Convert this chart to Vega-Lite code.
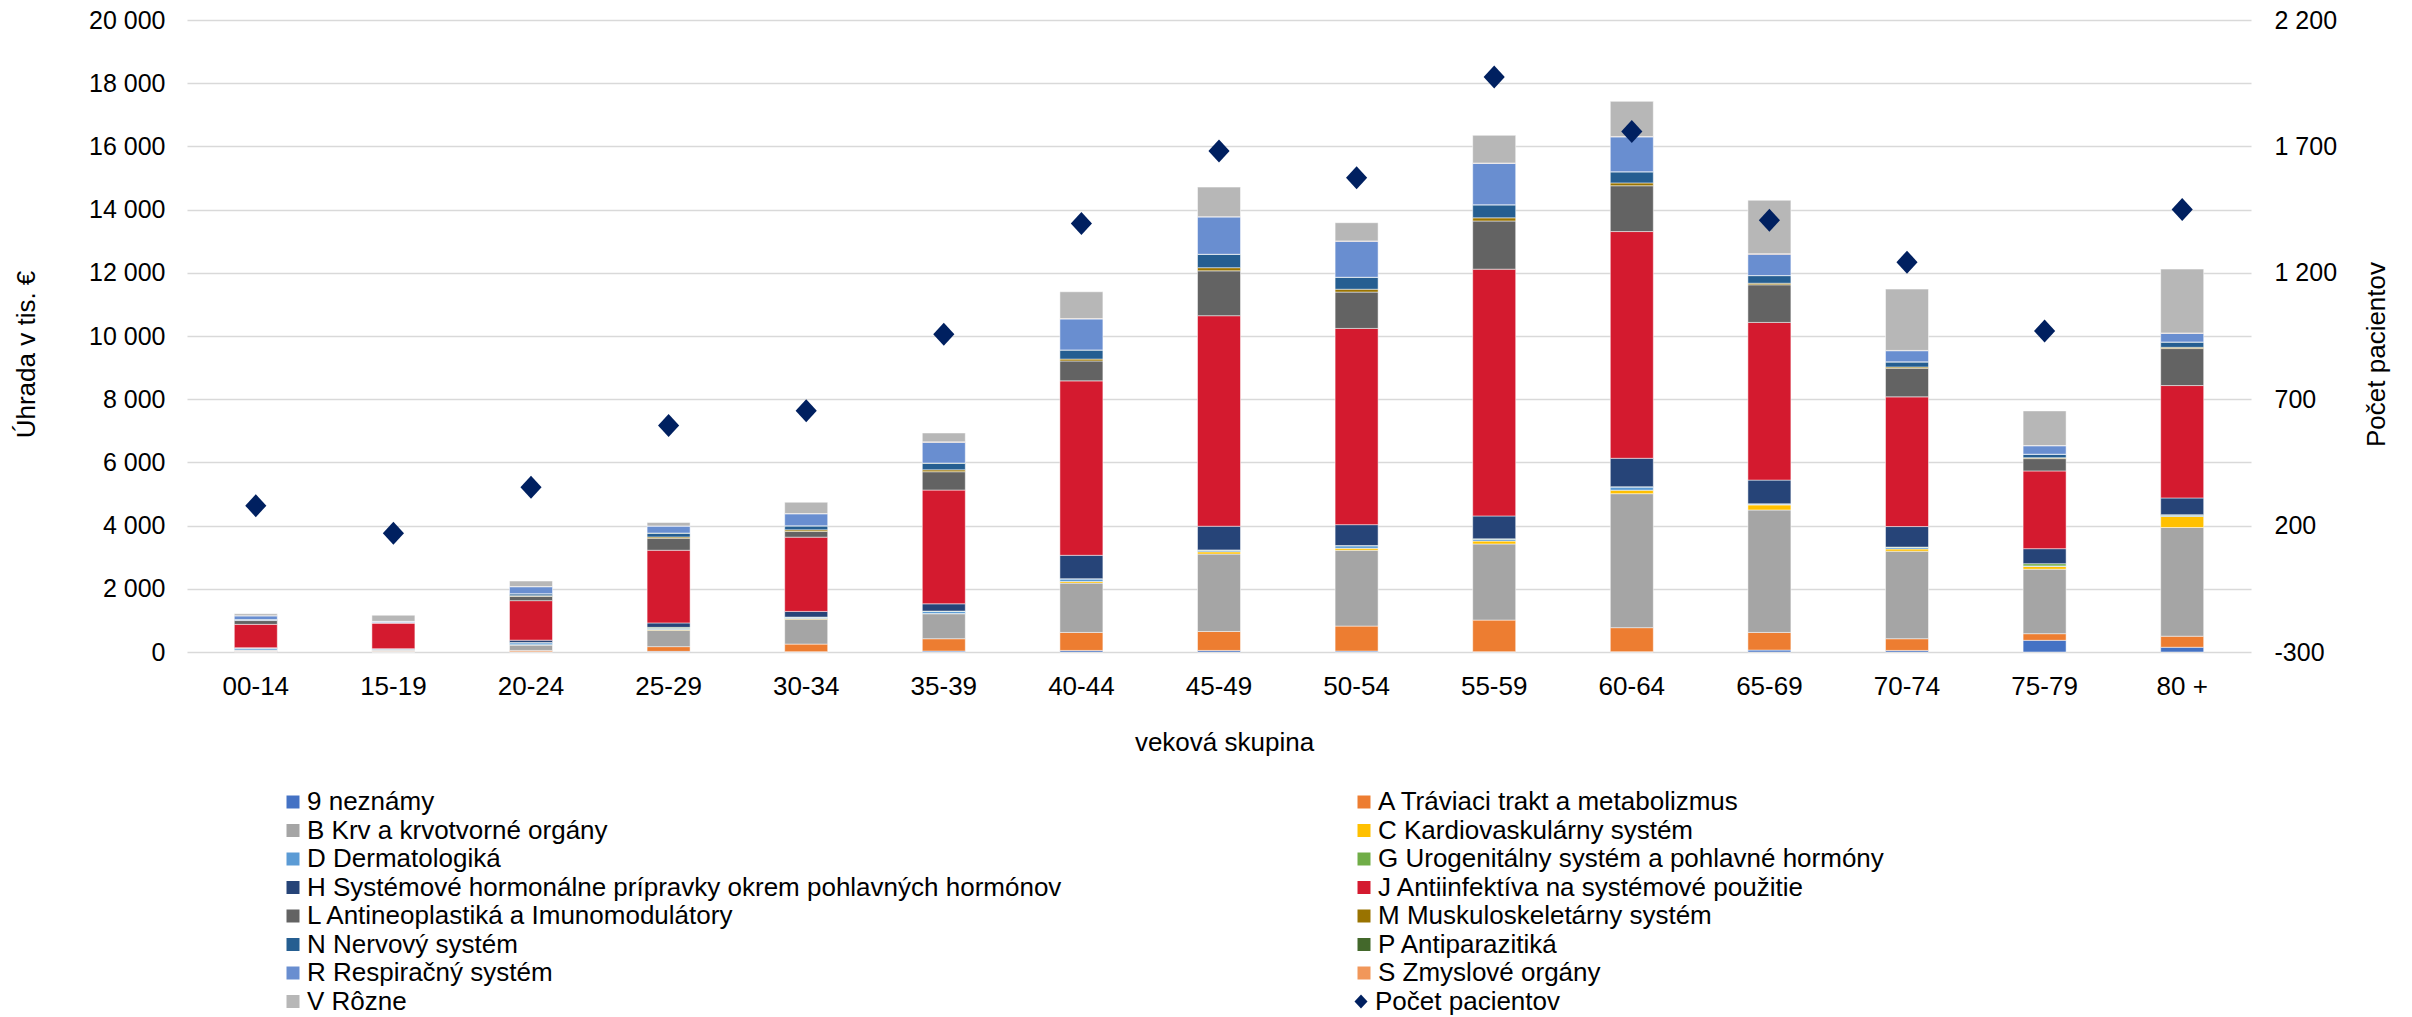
{
  "$schema": "https://vega.github.io/schema/vega-lite/v6.json",
  "width": 2064,
  "height": 632,
  "autosize": {"type": "none"},
  "padding": {"left": 187, "top": 20, "right": 161, "bottom": 365},
  "background": "white",
  "config": {
    "font": "Liberation Sans",
    "view": {"stroke": null},
    "axis": {"labelColor": "#000000", "titleColor": "#000000", "titleFontWeight": "normal", "labelFont": "Liberation Sans", "titleFont": "Liberation Sans"}
  },
  "datasets": {
    "names": [
      {"k": "9", "name": "9 neznámy"},
      {"k": "A", "name": "A Tráviaci trakt a metabolizmus"},
      {"k": "B", "name": "B Krv a krvotvorné orgány"},
      {"k": "C", "name": "C Kardiovaskulárny systém"},
      {"k": "D", "name": "D Dermatologiká"},
      {"k": "G", "name": "G Urogenitálny systém a pohlavné hormóny"},
      {"k": "H", "name": "H Systémové hormonálne prípravky okrem pohlavných hormónov"},
      {"k": "J", "name": "J Antiinfektíva na systémové použitie"},
      {"k": "L", "name": "L Antineoplastiká a Imunomodulátory"},
      {"k": "M", "name": "M Muskuloskeletárny systém"},
      {"k": "N", "name": "N Nervový systém"},
      {"k": "P", "name": "P Antiparazitiká"},
      {"k": "R", "name": "R Respiračný systém"},
      {"k": "S", "name": "S Zmyslové orgány"},
      {"k": "V", "name": "V Rôzne"}
    ]
  },
  "data": {
    "values": [
      {"g": "00-14", "p": 279, "9": 20, "A": 10, "B": 30, "C": 5, "D": 50, "G": 5, "H": 15, "J": 740, "L": 120, "M": 5, "N": 20, "P": 5, "R": 120, "S": 5, "V": 60},
      {"g": "15-19", "p": 170, "9": 5, "A": 15, "B": 40, "C": 5, "D": 20, "G": 5, "H": 15, "J": 811, "L": 10, "M": 0, "N": 10, "P": 0, "R": 35, "S": 0, "V": 192},
      {"g": "20-24", "p": 352, "9": 10, "A": 40, "B": 170, "C": 10, "D": 60, "G": 10, "H": 75, "J": 1250, "L": 136, "M": 20, "N": 60, "P": 5, "R": 220, "S": 5, "V": 175},
      {"g": "25-29", "p": 596, "9": 20, "A": 150, "B": 520, "C": 20, "D": 40, "G": 30, "H": 140, "J": 2300, "L": 380, "M": 40, "N": 120, "P": 5, "R": 220, "S": 5, "V": 110},
      {"g": "30-34", "p": 654, "9": 10, "A": 240, "B": 790, "C": 20, "D": 40, "G": 5, "H": 180, "J": 2350, "L": 180, "M": 50, "N": 125, "P": 5, "R": 380, "S": 5, "V": 360},
      {"g": "35-39", "p": 957, "9": 30, "A": 390, "B": 790, "C": 10, "D": 70, "G": 5, "H": 230, "J": 3600, "L": 580, "M": 60, "N": 210, "P": 5, "R": 660, "S": 10, "V": 280},
      {"g": "40-44", "p": 1395, "9": 50, "A": 570, "B": 1560, "C": 50, "D": 80, "G": 10, "H": 740, "J": 5520, "L": 630, "M": 60, "N": 285, "P": 5, "R": 980, "S": 10, "V": 850},
      {"g": "45-49", "p": 1682, "9": 50, "A": 600, "B": 2450, "C": 70, "D": 50, "G": 10, "H": 750, "J": 6662, "L": 1420, "M": 100, "N": 420, "P": 5, "R": 1180, "S": 10, "V": 935},
      {"g": "50-54", "p": 1576, "9": 30, "A": 790, "B": 2400, "C": 60, "D": 80, "G": 10, "H": 660, "J": 6210, "L": 1150, "M": 90, "N": 375, "P": 5, "R": 1140, "S": 10, "V": 575},
      {"g": "55-59", "p": 1975, "9": 10, "A": 1000, "B": 2410, "C": 90, "D": 60, "G": 10, "H": 725, "J": 7810, "L": 1525, "M": 100, "N": 410, "P": 5, "R": 1310, "S": 10, "V": 875},
      {"g": "60-64", "p": 1759, "9": 10, "A": 760, "B": 4240, "C": 110, "D": 100, "G": 10, "H": 900, "J": 7175, "L": 1450, "M": 90, "N": 350, "P": 5, "R": 1100, "S": 15, "V": 1110},
      {"g": "65-69", "p": 1408, "9": 60, "A": 560, "B": 3875, "C": 160, "D": 25, "G": 10, "H": 750, "J": 4990, "L": 1190, "M": 50, "N": 240, "P": 5, "R": 675, "S": 15, "V": 1690},
      {"g": "70-74", "p": 1242, "9": 50, "A": 370, "B": 2770, "C": 70, "D": 50, "G": 10, "H": 650, "J": 4104, "L": 905, "M": 40, "N": 160, "P": 5, "R": 350, "S": 10, "V": 1940},
      {"g": "75-79", "p": 970, "9": 370, "A": 210, "B": 2040, "C": 85, "D": 20, "G": 70, "H": 475, "J": 2460, "L": 390, "M": 30, "N": 105, "P": 5, "R": 265, "S": 10, "V": 1095},
      {"g": "80 +", "p": 1450, "9": 150, "A": 350, "B": 3440, "C": 350, "D": 40, "G": 15, "H": 530, "J": 3557, "L": 1170, "M": 40, "N": 165, "P": 5, "R": 275, "S": 10, "V": 2020}
    ]
  },
  "layer": [
    {
      "transform": [
        {"fold": ["9", "A", "B", "C", "D", "G", "H", "J", "L", "M", "N", "P", "R", "S", "V"], "as": ["k", "v"]},
        {"lookup": "k", "from": {"data": {"name": "names"}, "key": "k", "fields": ["name"]}}
      ],
      "mark": {"type": "bar", "stroke": "#ffffff", "strokeWidth": 0.5},
      "encoding": {
        "x": {
          "field": "g", "type": "nominal",
          "scale": {"domain": ["00-14", "15-19", "20-24", "25-29", "30-34", "35-39", "40-44", "45-49", "50-54", "55-59", "60-64", "65-69", "70-74", "75-79", "80 +"], "paddingInner": 0.6875, "paddingOuter": 0.34375},
          "axis": {"title": "veková skupina", "labelAngle": 0, "labelFontSize": 26, "labelPadding": 21, "ticks": false, "domain": false, "grid": false, "titleFontSize": 26, "titleX": 1037, "titleY": 98, "titleBaseline": "alphabetic", "titleAlign": "center"}
        },
        "y": {
          "field": "v", "type": "quantitative", "stack": "zero",
          "scale": {"domain": [0, 20000], "nice": false},
          "axis": {"title": "Úhrada v tis.  €", "values": [0, 2000, 4000, 6000, 8000, 10000, 12000, 14000, 16000, 18000, 20000], "labelExpr": "replace(format(datum.value, ','), ',', ' ')", "labelFontSize": 25, "labelPadding": 22, "ticks": false, "domain": false, "grid": true, "gridColor": "#d9d9d9", "gridWidth": 1.5, "labelFlush": false, "labelOverlap": false, "titleFontSize": 26, "titleAngle": 270, "titleX": -161, "titleY": 334, "titleAlign": "center", "titleBaseline": "middle"}
        },
        "order": {"field": "name", "sort": "ascending"},
        "color": {
          "field": "name", "type": "nominal",
          "scale": {
            "domain": ["9 neznámy", "A Tráviaci trakt a metabolizmus", "B Krv a krvotvorné orgány", "C Kardiovaskulárny systém", "D Dermatologiká", "G Urogenitálny systém a pohlavné hormóny", "H Systémové hormonálne prípravky okrem pohlavných hormónov", "J Antiinfektíva na systémové použitie", "L Antineoplastiká a Imunomodulátory", "M Muskuloskeletárny systém", "N Nervový systém", "P Antiparazitiká", "R Respiračný systém", "S Zmyslové orgány", "V Rôzne"],
            "range": ["#4472C4", "#ED7D31", "#A5A5A5", "#FFC000", "#5B9BD5", "#70AD47", "#264478", "#D41A2F", "#636363", "#997300", "#255E91", "#43682B", "#698ED0", "#F1975A", "#B7B7B7"]
          },
          "legend": {
            "orient": "none", "legendX": 93, "legendY": 769, "direction": "horizontal", "columns": 2, "columnPadding": 289, "rowPadding": 2.5, "title": null, "padding": 0,
            "labelFontSize": 26, "labelFont": "Liberation Sans", "labelColor": "#000000", "labelOffset": 1, "labelLimit": 2000,
            "symbolType": "square", "symbolSize": 169, "symbolStrokeWidth": 0, "symbolOpacity": 1
          }
        }
      }
    },
    {
      "mark": {"type": "point", "filled": true, "fill": "#002060", "size": 529, "opacity": 1, "strokeWidth": 0},
      "encoding": {
        "x": {"field": "g", "type": "nominal"},
        "y": {
          "field": "p", "type": "quantitative",
          "scale": {"domain": [-300, 2200], "nice": false},
          "axis": {"orient": "right", "title": "Počet pacientov", "values": [-300, 200, 700, 1200, 1700, 2200], "labelExpr": "datum.value < 0 ? '-' + abs(datum.value) : replace(format(datum.value, ','), ',', ' ')", "labelFontSize": 25, "labelPadding": 23, "ticks": false, "domain": false, "grid": false, "labelFlush": false, "labelOverlap": false, "titleFontSize": 26, "titleAngle": 270, "titleX": 125, "titleY": 334, "titleAlign": "center", "titleBaseline": "middle"}
        },
        "shape": {
          "datum": "Počet pacientov", "type": "nominal",
          "scale": {"range": ["M-0.92,0L0,-1L0.92,0L0,1Z"]},
          "legend": {"orient": "none", "legendX": 1161, "legendY": 968.5, "title": null, "padding": 0, "labelFontSize": 26, "labelFont": "Liberation Sans", "labelColor": "#000000", "labelOffset": 1, "labelLimit": 1000, "symbolSize": 200, "symbolFillColor": "#002060", "symbolStrokeColor": "#002060", "symbolStrokeWidth": 0, "symbolOpacity": 1}
        }
      }
    }
  ],
  "resolve": {"scale": {"y": "independent"}}
}
